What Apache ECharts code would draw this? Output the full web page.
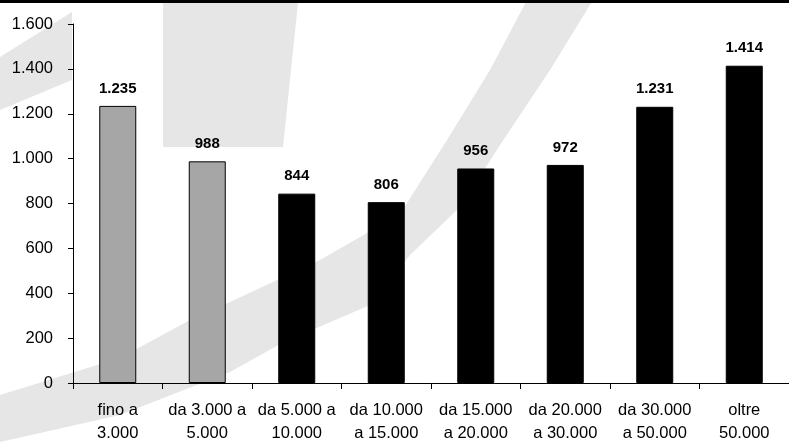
<!DOCTYPE html>
<html>
<head>
<meta charset="utf-8">
<script src="https://cdn.jsdelivr.net/npm/echarts@6/dist/echarts.min.js"></script>
<style>
html,body{margin:0;padding:0;background:#fff;}
#chart{width:789px;height:445px;}
</style>
</head>
<body>
<div id="chart"></div>
<script>
const categories = ['fino a\n3.000', 'da 3.000 a\n5.000', 'da 5.000 a\n10.000', 'da 10.000\na 15.000', 'da 15.000\na 20.000', 'da 20.000\na 30.000', 'da 30.000\na 50.000', 'oltre\n50.000'];
const values = [1235, 988, 844, 806, 956, 972, 1231, 1414];
const yTicks = [0, 200, 400, 600, 800, 1000, 1200, 1400, 1600];

function fmt(v) {
  return String(v).replace(/\B(?=(\d{3})+(?!\d))/g, '.');
}

const FONT = '"Liberation Sans", Arial, sans-serif';
const WM = '#e6e6e6';

const chart = echarts.init(document.getElementById('chart'), null, {renderer: 'canvas'});
chart.setOption({
  animation: false,
  backgroundColor: '#fff',
  graphic: [
    {type: 'polygon', z: -10, silent: true, shape: {points: [[163,3],[298,3],[283,147],[163,147]]}, style: {fill: WM}},
    {type: 'polygon', z: -10, silent: true, shape: {points: [[0,57],[72,12],[72,80],[0,110]]}, style: {fill: WM}},
    {type: 'polygon', z: -10, silent: true, shape: {points: [
      [0,395],[120,358],[190,320],[230,302],[320,260],[400,214],[447,140],[490,70],[527,0],
      [593,0],[550,70],[500,145],[460,207],[410,255],[370,305],[282,343],[230,372],[120,415],[0,442]
    ]}, style: {fill: WM}},
    {type: 'rect', z: 100, silent: true, shape: {x: 0, y: 0, width: 789, height: 3}, style: {fill: '#000'}}
  ],
  grid: {left: 73, right: -10, top: 24, bottom: 59, containLabel: false},
  xAxis: {
    type: 'category',
    data: categories,
    axisLine: {show: true, lineStyle: {color: '#000', width: 1}},
    axisTick: {show: true, inside: false, length: 6, alignWithLabel: false, lineStyle: {color: '#000'}},
    axisLabel: {interval: 0, color: '#000', fontFamily: FONT, fontSize: 16.5, lineHeight: 23, margin: 16}
  },
  yAxis: {
    type: 'value',
    min: yTicks[0],
    max: yTicks[yTicks.length - 1],
    interval: 200,
    splitLine: {show: false},
    axisLine: {show: true, lineStyle: {color: '#000', width: 1}},
    axisTick: {show: true, inside: false, length: 5, lineStyle: {color: '#000'}},
    axisLabel: {color: '#000', fontFamily: FONT, fontSize: 16.5, margin: 20, formatter: v => fmt(v)}
  },
  series: [{
    type: 'bar',
    data: values,
    barWidth: 37,
    itemStyle: {
      color: p => p.dataIndex < 2 ? '#a6a6a6' : '#000000',
      borderColor: '#000',
      borderWidth: 1
    },
    label: {
      show: true,
      position: 'top',
      distance: 10,
      color: '#000',
      fontFamily: FONT,
      fontWeight: 'bold',
      fontSize: 15,
      formatter: p => fmt(p.value)
    }
  }]
});
</script>
</body>
</html>
